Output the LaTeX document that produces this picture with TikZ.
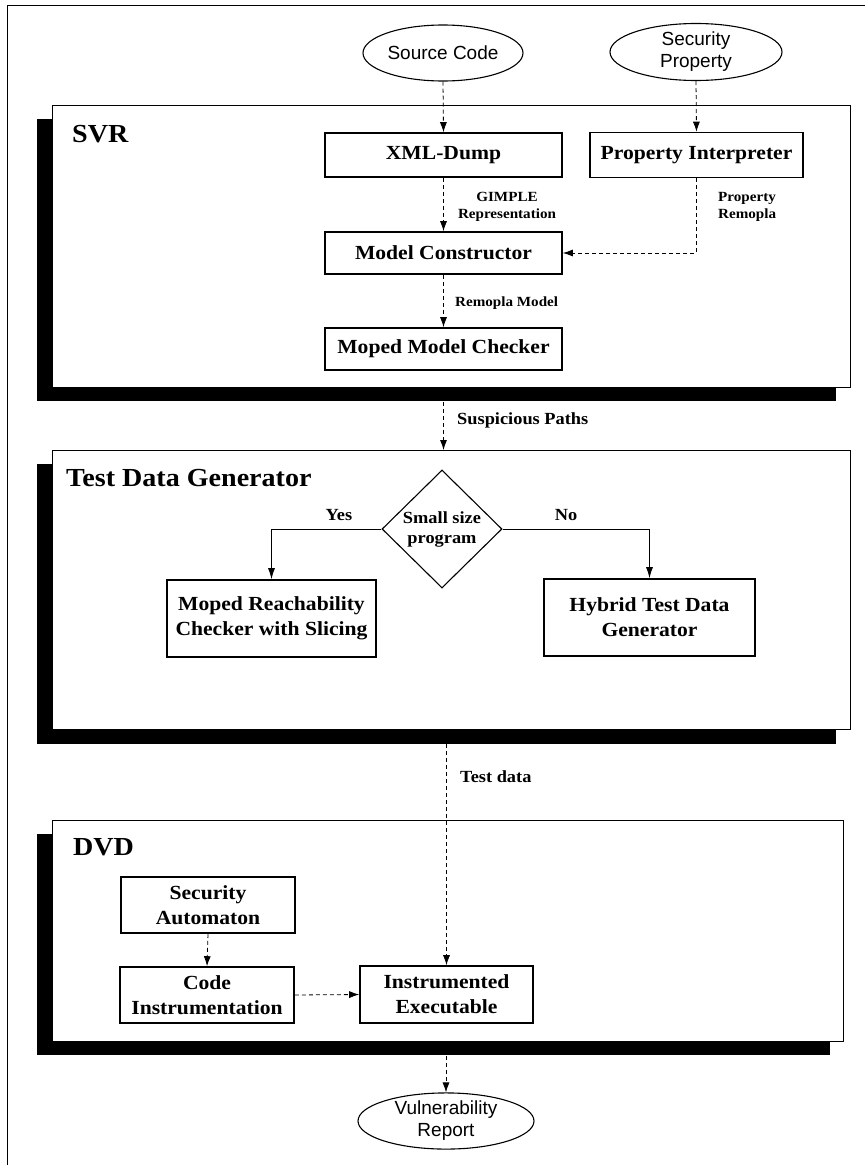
\documentclass[tikz,border=0pt]{standalone}
\usepackage{fontspec}
\setmainfont{Liberation Serif}[FakeStretch=1.08]
\newfontfamily\ovalfont{Liberation Sans}
\usetikzlibrary{shapes.geometric,arrows.meta}

\tikzset{
  box/.style={draw, line width=1.6pt, inner sep=0pt, align=center,
              font=\fontsize{20}{25}\selectfont\bfseries},
  panel/.style={draw, line width=1.4pt, fill=white, inner sep=0pt, anchor=north west},
  oval/.style={ellipse, draw, line width=1.1pt, inner sep=0pt, align=center,
               font=\ovalfont\fontsize{19}{22}\selectfont},
  title/.style={anchor=base west, inner sep=0pt, font=\fontsize{26}{30}\selectfont\bfseries},
  lbl/.style={inner sep=0pt, align=center, font=\fontsize{14}{17}\selectfont\bfseries},
  biglbl/.style={inner sep=0pt, font=\fontsize{17}{20}\selectfont\bfseries},
  flow/.style={line width=0.8pt, dash pattern=on 4pt off 3pt,
               -{Latex[length=10pt,width=7pt]}},
  branch/.style={line width=0.9pt, -{Latex[length=11pt,width=7pt]}},
  decide/.style={diamond, draw, line width=1.1pt, inner sep=0pt, align=center,
                 minimum width=120pt, minimum height=118pt,
                 font=\fontsize{17}{20}\selectfont\bfseries}
}

\begin{document}
\begin{tikzpicture}[x=1pt,y=-1pt]
\useasboundingbox (0,0) rectangle (865,1165);

% outer frame (top and left edges)
\draw[line width=1pt] (7,1165) -- (7,5) -- (865,5);

% inputs
\node[oval, minimum width=160pt, minimum height=56pt] (src) at (443,53) {Source Code};
\node[oval, minimum width=172pt, minimum height=57pt] (prop) at (696,52) {Security\\Property};

% panel shadows
\fill (37,119) rectangle (836,401);
\fill (37,464) rectangle (836,744);
\fill (37,834) rectangle (830,1055);

% SVR panel
\node[panel, minimum width=798pt, minimum height=282pt] (svr) at (52,105) {};
\node[title] (svrt) at (72,142) {SVR};
\node[box, minimum width=237pt, minimum height=44pt] (xml) at (443.5,155) {XML-Dump};
\node[box, minimum width=213pt, minimum height=45pt] (pint) at (696.5,155) {Property Interpreter};
\node[box, minimum width=237pt, minimum height=42pt] (mc) at (443.5,253) {Model Constructor};
\node[box, minimum width=237pt, minimum height=42pt] (mmc) at (443.5,349) {Moped Model Checker};
\node[lbl] (gimple) at (507,207) {GIMPLE\\Representation};
\node[lbl, anchor=west, align=left] (premo) at (718,207) {Property\\Remopla};
\node[lbl, anchor=west] (rmodel) at (455,303) {Remopla Model};

% Test Data Generator panel
\node[panel, minimum width=798pt, minimum height=279pt] (tdg) at (52,450) {};
\node[title] (tdgt) at (66,486) {Test Data Generator};
\node[decide] (dia) at (442,529) {Small size\\program};
\node[box, minimum width=209pt, minimum height=77pt] (mrc) at (271.5,618.5) {Moped Reachability\\Checker with Slicing};
\node[box, minimum width=211pt, minimum height=77pt] (hyb) at (649.5,617.5) {Hybrid Test Data\\Generator};
\node[biglbl, anchor=base] (yes) at (339,520) {Yes};
\node[biglbl, anchor=base] (no) at (566,520) {No};

% DVD panel
\node[panel, minimum width=791pt, minimum height=221pt] (dvd) at (52,820) {};
\node[title] (dvdt) at (73,855) {DVD};
\node[box, minimum width=174pt, minimum height=56pt] (sa) at (208,905) {Security\\Automaton};
\node[box, minimum width=174pt, minimum height=56pt] (ci) at (207,995) {Code\\Instrumentation};
\node[box, minimum width=173pt, minimum height=57pt] (ie) at (446.5,994.5) {Instrumented\\Executable};

% output
\node[oval, minimum width=176pt, minimum height=54pt] (vr) at (446,1121) {Vulnerability\\Report};

% SVR connectors
\draw[flow] (src.south) -- (xml.north);
\draw[flow] (prop.south) -- (pint.north);
\draw[flow] (xml.south) -- (mc.north);
\draw[flow] (pint.south) -- (pint.south |- mc.east) -- (mc.east);
\draw[flow] (mc.south) -- (mmc.north);

% between panels
\draw[flow] (mmc.south |- svr.south) -- (mmc.south |- tdg.north);
\node[biglbl, anchor=west] (susp) at (457,420) {Suspicious Paths};

% decision branches
\draw[branch] (dia.west) -- (mrc.north |- dia.west) -- (mrc.north);
\draw[branch] (dia.east) -- (hyb.north |- dia.east) -- (hyb.north);

% test data into DVD
\draw[flow] (ie.north |- tdg.south) -- (ie.north);
\node[biglbl, anchor=west] (tdata) at (460,777) {Test data};

% DVD connectors
\draw[flow] (sa.south) -- (ci.north);
\draw[flow] (ci.east) -- (ie.west);
\draw[flow] (vr.north |- dvd.south) -- (vr.north);
\end{tikzpicture}
\end{document}
